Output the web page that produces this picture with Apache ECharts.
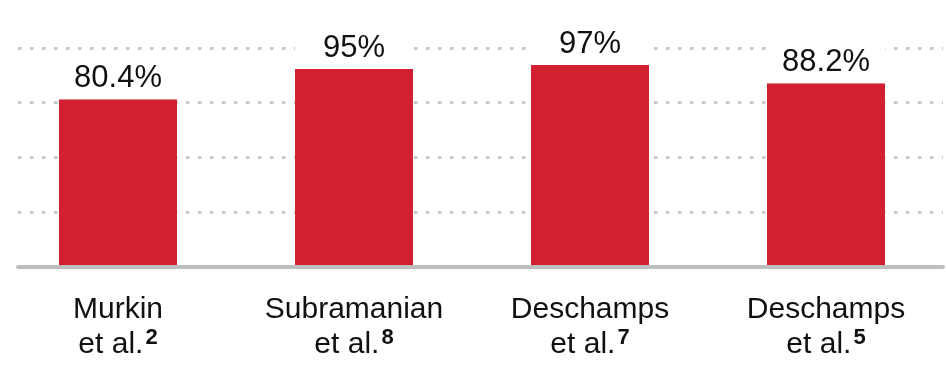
<!DOCTYPE html>
<html>
<head>
<meta charset="utf-8">
<script src="https://cdn.jsdelivr.net/npm/echarts@6/dist/echarts.min.js"></script>
<style>html,body{margin:0;padding:0;background:#fff;}#c{width:947px;height:386px;}</style>
</head>
<body>
<div id="c"></div>
<script>
var authors = ['Murkin', 'Subramanian', 'Deschamps', 'Deschamps'];
var refs = ['2', '8', '7', '5'];
var values = [80.4, 95, 97, 88.2];
var valueLabels = ['80.4%', '95%', '97%', '88.2%'];

var categories = authors.map(function (a, i) { return a + ' et al.' + refs[i]; });

var chart = echarts.init(document.getElementById('c'), null, {renderer: 'canvas'});
chart.setOption({
  animation: false,
  grid: [
    {left: -10, right: 3, top: 48.5, bottom: 121},
    {left: 18, right: 4, top: 48, bottom: 119.5}
  ],
  xAxis: [
    {
      type: 'category', gridIndex: 0, data: categories,
      axisLine: {show: false}, axisTick: {show: false},
      axisLabel: {
        margin: 27, interval: 0,
        formatter: function (v, i) {
          return '{a|' + authors[i] + '}\n{b|et al.}{s|' + refs[i] + '}';
        },
        rich: {
          a: {fontFamily: 'Liberation Sans', fontSize: 30, lineHeight: 35, color: '#111'},
          b: {fontFamily: 'Liberation Sans', fontSize: 30, lineHeight: 35, color: '#111'},
          s: {fontFamily: 'Liberation Sans', fontSize: 22, lineHeight: 22, fontWeight: 'bold', color: '#111', verticalAlign: 'top', padding: [0, 0, 6, 2]}
        }
      }
    },
    {
      type: 'value', gridIndex: 1, min: 0, max: 1,
      axisLine: {show: true, lineStyle: {color: '#bcbec0', width: 4}},
      axisTick: {show: false}, axisLabel: {show: false}, splitLine: {show: false}
    }
  ],
  yAxis: [
    {
      type: 'value', gridIndex: 0, min: 0, max: 105, interval: 26.25,
      axisLine: {show: false}, axisTick: {show: false}, axisLabel: {show: false}, splitLine: {show: false}
    },
    {
      type: 'value', gridIndex: 1, min: 0, max: 105, interval: 26.25,
      axisLine: {show: false}, axisTick: {show: false}, axisLabel: {show: false},
      splitLine: {show: true, lineStyle: {color: '#c8c8c8', width: 3, type: [3.5, 8.5]}}
    }
  ],
  series: [{
    type: 'bar', xAxisIndex: 0, yAxisIndex: 0,
    data: values,
    barWidth: 118,
    itemStyle: {color: '#d32031'},
    label: {
      show: true, position: 'top', distance: 0,
      formatter: function (p) { return valueLabels[p.dataIndex]; },
      fontFamily: 'Liberation Sans',
      fontSize: 31, color: '#111',
      backgroundColor: '#fff', width: 118, align: 'center',
      padding: [7, 0, 5, 0]
    }
  }]
});
</script>
</body>
</html>
